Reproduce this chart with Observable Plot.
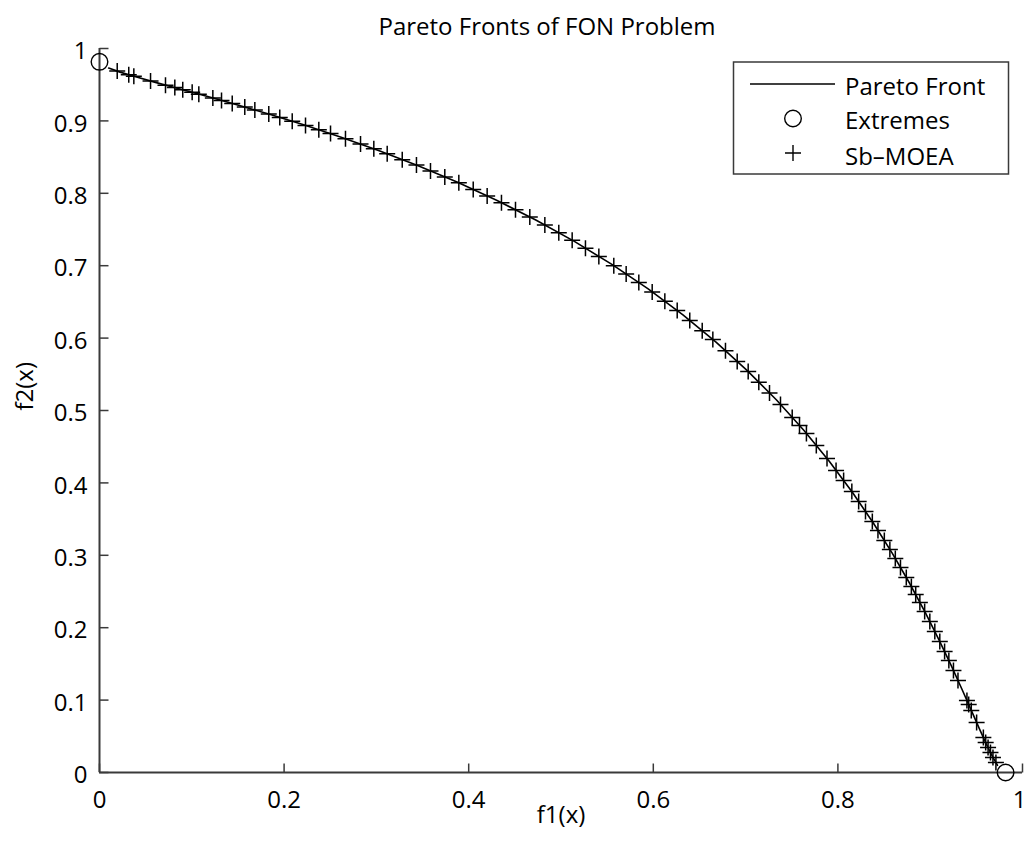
<!DOCTYPE html>
<html>
<head>
<meta charset="utf-8">
<script src="https://cdn.jsdelivr.net/npm/d3@7"></script>
<script src="https://cdn.jsdelivr.net/npm/@observablehq/plot@0.6"></script>
<style>
  html, body { margin: 0; padding: 0; background: #fff; }
  #chart svg { display: block; }
</style>
</head>
<body>
<div id="chart"></div>
<script>
// Reference Pareto front (f1, f2)
const frontF1 = [0.00995,0.02225,0.03921,0.06059,0.08607,0.11529,0.14786,0.18331,0.22120,0.26103,
  0.30232,0.34459,0.38737,0.43022,0.47271,0.51446,0.55514,0.59445,0.63212,0.66796,
  0.70180,0.73353,0.76307,0.79039,0.81548,0.83838,0.85914,0.87785,0.89460,0.90951,
  0.92270,0.93429,0.94442,0.95323,0.96084,0.96737,0.97295];
const frontF2 = [0.97295,0.96737,0.96084,0.95323,0.94442,0.93429,0.92270,0.90951,0.89460,0.87785,
  0.85914,0.83838,0.81548,0.79039,0.76307,0.73353,0.70180,0.66796,0.63212,0.59445,
  0.55514,0.51446,0.47271,0.43022,0.38737,0.34459,0.30232,0.26103,0.22120,0.18331,
  0.14786,0.11529,0.08607,0.06059,0.03921,0.02225,0.00995];

// Extremes
const extremesF1 = [0, 0.98168];
const extremesF2 = [0.98168, 0];

// Sb-MOEA solutions
const sbF1 = [0.0192,0.0317,0.0372,0.0553,0.0715,0.0816,0.0902,0.1004,0.1076,0.1228,
  0.1322,0.1438,0.1574,0.1683,0.1834,0.1953,0.2088,0.2232,0.2376,0.2503,
  0.2665,0.2828,0.2972,0.3117,0.3280,0.3434,0.3586,0.3741,0.3893,0.4049,
  0.4200,0.4355,0.4507,0.4662,0.4825,0.4976,0.5121,0.5265,0.5410,0.5572,
  0.5706,0.5843,0.5988,0.6125,0.6259,0.6395,0.6530,0.6645,0.6782,0.6909,
  0.7028,0.7143,0.7259,0.7378,0.7505,0.7584,0.7659,0.7766,0.7882,0.7980,
  0.8062,0.8151,0.8225,0.8299,0.8373,0.8434,0.8503,0.8563,0.8622,0.8678,
  0.8741,0.8796,0.8843,0.8888,0.8940,0.8996,0.9050,0.9104,0.9156,0.9202,
  0.9252,0.9301,0.9398,0.9417,0.9445,0.9503,0.9576,0.9601,0.9627,0.9653,
  0.9680,0.9712];
const sbF2 = [0.9688,0.9637,0.9616,0.9551,0.9494,0.9460,0.9430,0.9395,0.9369,0.9316,
  0.9283,0.9242,0.9191,0.9151,0.9095,0.9048,0.8994,0.8938,0.8877,0.8825,
  0.8754,0.8680,0.8615,0.8546,0.8465,0.8390,0.8309,0.8225,0.8144,0.8051,
  0.7963,0.7869,0.7772,0.7673,0.7562,0.7454,0.7352,0.7240,0.7128,0.7000,
  0.6884,0.6767,0.6638,0.6508,0.6381,0.6243,0.6102,0.5981,0.5825,0.5678,
  0.5539,0.5391,0.5242,0.5084,0.4905,0.4793,0.4682,0.4517,0.4337,0.4171,
  0.4033,0.3881,0.3743,0.3605,0.3467,0.3343,0.3204,0.3080,0.2956,0.2831,
  0.2693,0.2569,0.2459,0.2348,0.2224,0.2086,0.1948,0.1809,0.1671,0.1547,
  0.1409,0.1271,0.0994,0.0939,0.0856,0.0691,0.0483,0.0414,0.0345,0.0276,
  0.0207,0.0138];

const xTicks = [0, 0.2, 0.4, 0.6, 0.8, 1];
const xTickLabels = ["0", "0.2", "0.4", "0.6", "0.8", "1"];
const yTicks = [0, 0.1, 0.2, 0.3, 0.4, 0.5, 0.6, 0.7, 0.8, 0.9, 1];
const yTickLabels = ["0", "0.1", "0.2", "0.3", "0.4", "0.5", "0.6", "0.7", "0.8", "0.9", "1"];

const titleText = "Pareto Fronts of FON Problem";
const xLabel = "f1(x)";
const yLabel = "f2(x)";
const legendItems = ["Pareto Front", "Extremes", "Sb\u2013MOEA"];

const front = frontF1.map((x, i) => ({x, y: frontF2[i]}));
const extremes = extremesF1.map((x, i) => ({x, y: extremesF2[i]}));
const sb = sbF1.map((x, i) => ({x, y: sbF2[i]}));
const xLab = xTicks.map((v, i) => ({v, t: xTickLabels[i]}));

const FONT = "'Open Sans', 'Noto Sans', sans-serif";
const AXIS = "#3a3a3a";

const plusSymbol = {draw(ctx, size) {
  const r = Math.sqrt(size / Math.PI);
  ctx.moveTo(-r, 0); ctx.lineTo(r, 0); ctx.moveTo(0, -r); ctx.lineTo(0, r);
}};
const tickUp = {draw(ctx) { ctx.moveTo(0, 0); ctx.lineTo(0, -9); }};
const tickRight = {draw(ctx) { ctx.moveTo(0, 0); ctx.lineTo(9, 0); }};

const chart = Plot.plot({
  width: 1025,
  height: 845,
  marginLeft: 99,
  marginRight: 3,
  marginTop: 48,
  marginBottom: 73,
  style: {fontFamily: FONT, fontSize: "24px", background: "#fff", color: "#000", overflow: "visible"},
  x: {domain: [0, 1], label: null, axis: null},
  y: {domain: [0, 1], label: null},
  marks: [
    Plot.ruleY([0], {stroke: AXIS, strokeWidth: 2}),
    Plot.ruleX([0], {stroke: AXIS, strokeWidth: 2}),
    Plot.dot(xTicks, {x: d => d, y: 0, symbol: tickUp, r: 1, stroke: AXIS, fill: "none", strokeWidth: 1.5}),
    Plot.dot(yTicks, {x: 0, y: d => d, symbol: tickRight, r: 1, stroke: AXIS, fill: "none", strokeWidth: 1.5}),
    Plot.text(xLab.slice(0, -1), {x: "v", y: 0, text: "t", lineAnchor: "top", dy: 18, fontSize: 24, fill: "#000"}),
    Plot.text(xLab.slice(-1), {x: "v", y: 0, text: "t", lineAnchor: "top", dy: 18, dx: 4, textAnchor: "end", fontSize: 24, fill: "#000"}),
    Plot.axisY(yTicks, {anchor: "left", tickSize: 0, tickPadding: 12, dy: 3, tickFormat: (d, i) => yTickLabels[i], fontSize: 24, fill: "#000"}),
    Plot.line(front, {x: "x", y: "y", stroke: "#000", strokeWidth: 1.6}),
    Plot.dot(sb, {x: "x", y: "y", symbol: plusSymbol, r: 8, stroke: "#000", fill: "none", strokeWidth: 1.5}),
    Plot.dot(extremes, {x: "x", y: "y", r: 8.3, stroke: "#000", fill: "none", strokeWidth: 1.4}),
    Plot.text([titleText], {frameAnchor: "top", dx: -14, dy: -31, fontSize: 24, fill: "#000"}),
    Plot.text([xLabel], {frameAnchor: "bottom", dy: 50, fontSize: 24, fill: "#000"}),
    Plot.text([yLabel], {frameAnchor: "left", dx: -74, rotate: -90, fontSize: 24, fill: "#000"})
  ]
});

document.getElementById("chart").appendChild(chart);

// Legend box (layout only)
const svg = d3.select(chart);
const lg = svg.append("g").attr("font-family", FONT).attr("font-size", 24).attr("text-anchor", "start");
lg.append("rect").attr("x", 733.5).attr("y", 62).attr("width", 275).attr("height", 112)
  .attr("fill", "#fff").attr("stroke", AXIS).attr("stroke-width", 1.5);
lg.append("line").attr("x1", 750).attr("x2", 835).attr("y1", 84).attr("y2", 84)
  .attr("stroke", "#000").attr("stroke-width", 1.6);
lg.append("circle").attr("cx", 793).attr("cy", 118.5).attr("r", 8.3)
  .attr("fill", "none").attr("stroke", "#000").attr("stroke-width", 1.4);
lg.append("path").attr("d", "M785,153H801M793,145V161")
  .attr("fill", "none").attr("stroke", "#000").attr("stroke-width", 1.4);
const baselines = [94.5, 129, 164.5];
legendItems.forEach((t, i) => {
  lg.append("text").attr("x", 845).attr("y", baselines[i]).attr("fill", "#000")
    .attr("text-anchor", "start").text(t);
});
</script>
</body>
</html>
